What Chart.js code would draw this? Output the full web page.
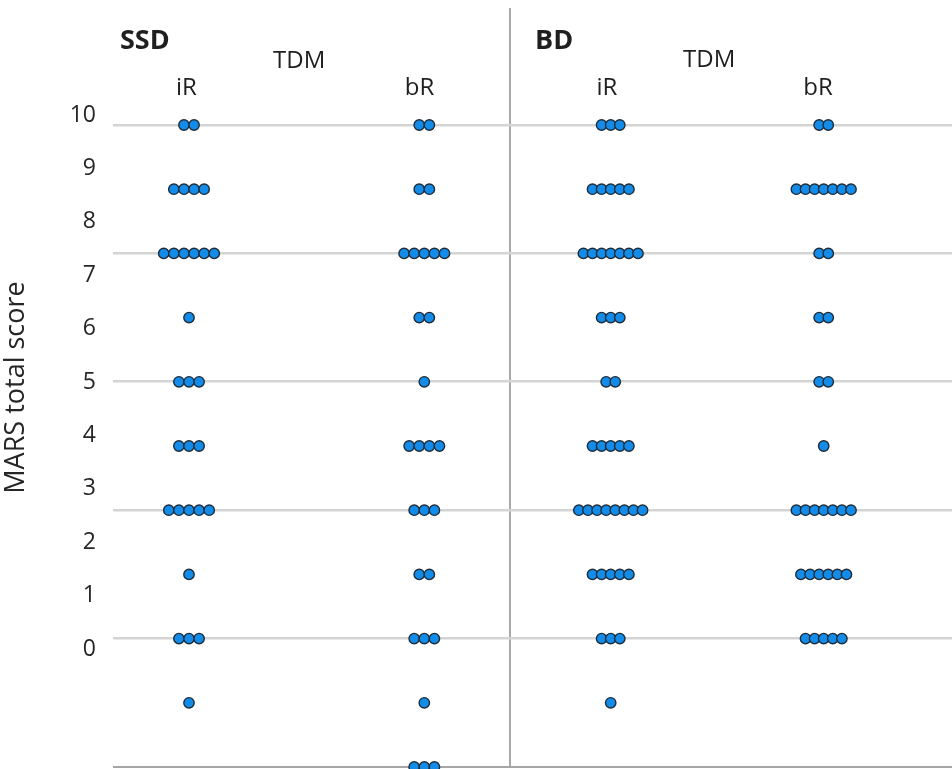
<!DOCTYPE html>
<html>
<head>
<meta charset="utf-8">
<title>MARS total score – SSD / BD</title>
<script src="https://cdn.jsdelivr.net/npm/chart.js@4/dist/chart.umd.min.js"></script>
<style>
  html, body { margin: 0; padding: 0; background: #ffffff; }
  #wrap { width: 952px; height: 769px; }
</style>
</head>
<body>
<div id="wrap"><canvas id="chart" width="952" height="769"></canvas></div>
<script>
// MARS total score rows, top to bottom
const scores = [10, 9, 8, 7, 6, 5, 4, 3, 2, 1, 0];

// Number of patients per score row, one array per group
const ssdIR = [2, 4, 6, 1, 3, 3, 5, 1, 3, 1, 0];
const ssdBR = [2, 2, 5, 2, 1, 4, 3, 2, 3, 1, 3];
const bdIR  = [3, 5, 7, 3, 2, 5, 8, 5, 3, 1, 0];
const bdBR  = [2, 7, 2, 2, 2, 1, 7, 6, 5, 0, 0];

// Left-hand scale labels
const tickLabels = ['0', '1', '2', '3', '4', '5', '6', '7', '8', '9', '10'];

// Group / panel names
const groupNames = ['iR', 'bR'];
const panelNames = ['SSD', 'BD'];
const subTitle = 'TDM';

// ---- layout (x in pixels from the left edge of the plot area) ----
const layout = {
  groups: [
    { counts: ssdIR, center: 76.0,  step: 10.1 },
    { counts: ssdBR, center: 311.3, step: 10.1 },
    { counts: bdIR,  center: 497.7, step: 9.1 },
    { counts: bdBR,  center: 710.7, step: 9.1 }
  ],
  separator: 396.5,
  xMax: 839,
  yMax: 759 / 64.2,          // 10 sits 642 px above the baseline
  tickMin: -(767 - 649) / 53.4,
  tickMax: (649 - 8) / 53.4
};

const headings = [
  { text: panelNames[0], x: 120, y: 49, align: 'left',   font: 'bold 27px "Open Sans"' },
  { text: subTitle,      x: 273, y: 68, align: 'left',   font: '24px "Open Sans"' },
  { text: groupNames[0], x: 186.5, y: 95, align: 'center', font: '24px "Open Sans"' },
  { text: groupNames[1], x: 419.5, y: 95, align: 'center', font: '24px "Open Sans"' },
  { text: panelNames[1], x: 535, y: 49, align: 'left',   font: 'bold 27px "Open Sans"' },
  { text: subTitle,      x: 683, y: 67, align: 'left',   font: '24px "Open Sans"' },
  { text: groupNames[0], x: 607, y: 95, align: 'center', font: '24px "Open Sans"' },
  { text: groupNames[1], x: 818, y: 95, align: 'center', font: '24px "Open Sans"' }
];

// One scatter dataset per group: each patient is a dot, dots of a row sit side by side
function dotsFor(group) {
  const pts = [];
  group.counts.forEach((n, r) => {
    for (let i = 0; i < n; i++) {
      pts.push({ x: group.center + (i - (n - 1) / 2) * group.step, y: scores[r] });
    }
  });
  return pts;
}

const datasets = layout.groups.map((g, k) => ({
  label: panelNames[k < 2 ? 0 : 1] + ' ' + groupNames[k % 2],
  data: dotsFor(g),
  xAxisID: 'x',
  yAxisID: 'y',
  backgroundColor: '#138be8',
  borderColor: '#1f2c38',
  borderWidth: 1.4,
  pointRadius: 5.2,
  pointHoverRadius: 5.2,
  clip: false
}));

const headingPlugin = {
  id: 'headings',
  afterDraw(chart) {
    const ctx = chart.ctx;
    ctx.save();
    ctx.fillStyle = '#1f1f1f';
    ctx.textBaseline = 'alphabetic';
    headings.forEach(h => {
      ctx.font = h.font;
      ctx.textAlign = h.align;
      ctx.fillText(h.text, h.x, h.y);
    });
    ctx.restore();
  }
};

function noEdgePadding(axis) {
  axis.paddingTop = 0;
  axis.paddingBottom = 0;
  axis.paddingLeft = 0;
  axis.paddingRight = 0;
}

new Chart(document.getElementById('chart'), {
  type: 'scatter',
  data: { datasets },
  plugins: [headingPlugin],
  options: {
    responsive: false,
    animation: false,
    devicePixelRatio: 1,
    layout: { autoPadding: false, padding: { top: 8, right: 0, bottom: 2, left: 0 } },
    plugins: { legend: { display: false }, tooltip: { enabled: false }, title: { display: false } },
    scales: {
      x: {
        type: 'linear',
        min: 0,
        max: layout.xMax,
        ticks: { display: false },
        border: { display: false },
        grid: { drawTicks: false, color: '#a8a8a8', lineWidth: 2 },
        afterBuildTicks: axis => { axis.ticks = [{ value: layout.separator }]; },
        afterFit: axis => { axis.height = 0; noEdgePadding(axis); }
      },
      y: {
        type: 'linear',
        position: 'left',
        min: 0,
        max: layout.yMax,
        ticks: { display: false },
        border: { display: false },
        grid: {
          drawTicks: false,
          color: c => (c.tick && c.tick.value === 0 ? '#a6a6a6' : '#d4d4d4'),
          lineWidth: c => (c.tick && c.tick.value === 0 ? 2 : 2.6)
        },
        afterBuildTicks: axis => { axis.ticks = [0, 2, 4, 6, 8, 10].map(v => ({ value: v })); },
        afterFit: axis => { axis.width = 0; noEdgePadding(axis); }
      },
      yTicks: {
        type: 'linear',
        position: 'left',
        min: layout.tickMin,
        max: layout.tickMax,
        grid: { display: false, drawTicks: false },
        border: { display: false },
        afterBuildTicks: axis => { axis.ticks = tickLabels.map((t, i) => ({ value: i })); },
        ticks: {
          padding: 17,
          color: '#262626',
          font: { family: 'Open Sans', size: 23 },
          callback: v => tickLabels[v]
        },
        title: {
          display: true,
          text: 'MARS total score',
          color: '#262626',
          font: { family: 'Open Sans', size: 27 },
          padding: 0
        },
        afterFit: axis => { axis.width = 113; noEdgePadding(axis); }
      }
    }
  }
});
</script>
</body>
</html>
